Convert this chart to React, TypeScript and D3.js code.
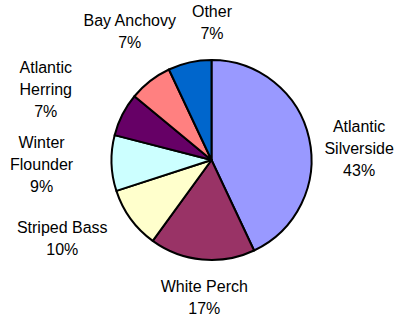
import React from "react";
import * as d3 from "d3";

// Share of catch by species (percent), clockwise from 12 o'clock
const species = [
  "Atlantic Silverside",
  "White Perch",
  "Striped Bass",
  "Winter Flounder",
  "Atlantic Herring",
  "Bay Anchovy",
  "Other",
];
const shares = [43, 17, 10, 9, 7, 7, 7];
// Wrapped label lines for each species
const labelLines = [
  ["Atlantic", "Silverside"],
  ["White Perch"],
  ["Striped Bass"],
  ["Winter", "Flounder"],
  ["Atlantic", "Herring"],
  ["Bay Anchovy"],
  ["Other"],
];
const sliceColors = ["#9999FF", "#993366", "#FFFFCC", "#CCFFFF", "#660066", "#FF8080", "#0066CC"];

// Best-fit label adjustments relative to the radial anchor
const labelNudge: [number, number][] = [
  [11, 19],
  [6, -2],
  [-36, -4],
  [-30, 0],
  [-41, -7],
  [4, -18],
  [31, -1],
];

const W = 401;
const H = 321;
const cx = 211.5;
const cy = 160;
const radius = 100;
const labelRadius = 140;
const fontSize = 16;
const lineStep = 22;

export default function App() {
  const pie = d3
    .pie<number>()
    .sort(null)
    .value((d) => d)
    .startAngle(0)
    .endAngle(2 * Math.PI);
  const arcs = pie(shares);
  const arc = d3.arc<d3.PieArcDatum<number>>().innerRadius(0).outerRadius(radius);
  const labelArc = d3
    .arc<d3.PieArcDatum<number>>()
    .innerRadius(labelRadius)
    .outerRadius(labelRadius);

  return (
    <svg
      width={W}
      height={H}
      style={{ position: "absolute", left: 0, top: 0, background: "#fff" }}
      fontFamily="'Liberation Sans', Arial, sans-serif"
      fontSize={fontSize}
    >
      <rect width={W} height={H} fill="#fff" />
      <g transform={`translate(${cx},${cy})`}>
        {arcs.map((a, i) => (
          <path
            key={species[i]}
            d={arc(a) ?? ""}
            fill={sliceColors[i]}
            stroke="#000"
            strokeWidth={2}
            strokeLinejoin="round"
          />
        ))}
        {arcs.map((a, i) => {
          const [px, py] = labelArc.centroid(a);
          const x = px + labelNudge[i][0];
          const y = py + labelNudge[i][1];
          const lines = [...labelLines[i], `${shares[i]}%`];
          const n = lines.length;
          return (
            <text key={species[i]} textAnchor="middle" fill="#000">
              {lines.map((ln, j) => (
                <tspan key={j} x={x} y={y + (j - (n - 1) / 2) * lineStep + fontSize * 0.36}>
                  {ln}
                </tspan>
              ))}
            </text>
          );
        })}
      </g>
    </svg>
  );
}
